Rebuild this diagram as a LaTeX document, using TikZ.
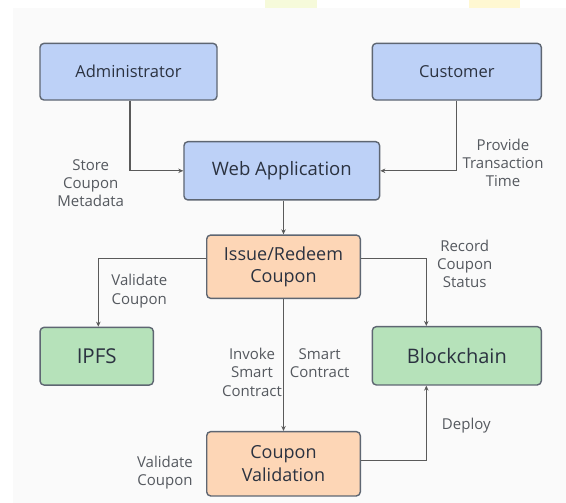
\documentclass[tikz,border=0pt]{standalone}
\usepackage{fontspec}
\setmainfont{Open Sans}
\usetikzlibrary{arrows.meta}
\definecolor{bgpanel}{HTML}{FAFAFA}
\definecolor{ylwA}{HTML}{F6FADA}
\definecolor{ylwB}{HTML}{FFF8D2}
\definecolor{blueF}{HTML}{BDD1F7}
\definecolor{orangeF}{HTML}{FDD6B6}
\definecolor{greenF}{HTML}{B6E2BA}
\definecolor{boxD}{HTML}{5E6672}
\definecolor{txtD}{HTML}{2B3240}
\definecolor{lineC}{HTML}{5A5A5A}
\definecolor{lblC}{HTML}{55595F}
\tikzset{
  box/.style={draw=boxD, line width=1.4pt, rounded corners=4pt, inner sep=0pt, anchor=center, align=center, text=txtD},
  bluebox/.style={box, fill=blueF},
  orangebox/.style={box, fill=orangeF},
  greenbox/.style={box, fill=greenF},
  lbl/.style={font=\fontsize{15}{18.3}\selectfont, text=lblC, align=center, inner sep=0pt, anchor=center},
  arr/.style={draw=lineC, line width=1.3pt, -{Stealth[length=5pt,width=4.5pt]}}
}
\begin{document}
\begin{tikzpicture}[x=1pt,y=-1pt]
\useasboundingbox (0,0) rectangle (566,503);
\fill[white] (0,0) rectangle (566,503);
\fill[bgpanel] (13,8) rectangle (566,503);
\fill[ylwA] (265,0) rectangle (317,8);
\fill[ylwB] (469,0) rectangle (520,8);

\node[bluebox, minimum width=177pt, minimum height=56.7pt, font=\fontsize{16.5}{20}\selectfont] (admin) at (128.5,71.7) {Administrator};
\node[bluebox, minimum width=169pt, minimum height=56.7pt, font=\fontsize{16.5}{20}\selectfont] (cust) at (456.8,71.7) {Customer};
\node[bluebox, minimum width=195.7pt, minimum height=58.3pt, font=\fontsize{18.5}{22}\selectfont] (web) at (281.8,170.8) {Web Application};
\node[orangebox, minimum width=153.6pt, minimum height=63.3pt, font=\fontsize{18}{22}\selectfont] (issue) at (283.5,266.7) {Issue/Redeem\\Coupon};
\node[greenbox, minimum width=113.3pt, minimum height=57.7pt, font=\fontsize{20.5}{24}\selectfont] (ipfs) at (96.7,356.2) {IPFS};
\node[greenbox, minimum width=169pt, minimum height=58.3pt, font=\fontsize{20}{24}\selectfont] (chain) at (456.8,355.8) {Blockchain};
\node[orangebox, minimum width=153.6pt, minimum height=64.3pt, font=\fontsize{18}{23}\selectfont] (valid) at (283.5,463.8) {Coupon\\Validation};

\draw[arr] ([xshift=1.5pt]admin.south) |- (web.west);
\draw[arr] ([xshift=-0.5pt]cust.south) |- (web.east);
\draw[arr] (issue.north |- web.south) -- (issue.north);
\draw[arr] ([yshift=8.4pt]issue.west) -| ([xshift=1.6pt]ipfs.north);
\draw[arr] ([yshift=8.4pt]issue.east) -| ([xshift=-30.5pt]chain.north);
\draw[arr] (issue.south) -- (valid.north);
\draw[arr] ([yshift=3pt]valid.east) -| ([xshift=-30.5pt]chain.south);

\node[lbl] (l1) at (90.7,183) {Store\\Coupon\\Metadata};
\node[lbl] (l2) at (503,162.8) {Provide\\Transaction\\Time};
\node[lbl] (l3) at (464.7,264) {Record\\Coupon\\Status};
\node[lbl] (l4) at (139.3,291.2) {Validate\\Coupon};
\node[lbl] (l5) at (252,372.3) {Invoke\\Smart\\Contract};
\node[lbl] (l6) at (319.7,363.3) {Smart\\Contract};
\node[lbl] (l7) at (466.3,425.7) {Deploy};
\node[lbl] (l8) at (165,472.5) {Validate\\Coupon};
\end{tikzpicture}
\end{document}
